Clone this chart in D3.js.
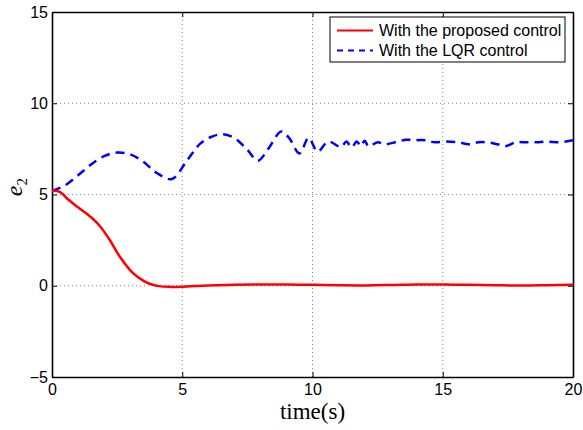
<!DOCTYPE html>
<html>
<head>
<meta charset="utf-8">
<script src="https://cdn.jsdelivr.net/npm/d3@7"></script>
<style>
  body { margin: 0; background: #fff; }
  svg { display: block; }
</style>
</head>
<body>
<svg id="chart"></svg>
<script>
// time samples and e2 values
const propTime = [0, 0.3, 0.6, 1.0, 1.5, 1.85, 2.2, 2.6, 3.1, 3.5, 3.8, 4.1, 4.5, 5.0, 6.0, 7.0, 8.0, 9.0, 10.0, 11.0, 12.0, 13.0, 14.0, 15.0, 16.0, 17.0, 18.0, 19.0, 20.0];
const propE2 = [5.2, 5.15, 4.75, 4.3, 3.75, 3.25, 2.55, 1.6, 0.7, 0.28, 0.08, -0.02, -0.06, -0.05, 0.02, 0.05, 0.07, 0.07, 0.05, 0.03, 0.02, 0.04, 0.07, 0.07, 0.05, 0.03, 0.01, 0.03, 0.06];

const lqrTime = [0, 0.5, 1.0, 1.5, 2.0, 2.5, 3.0, 3.5, 4.0, 4.6, 5.2, 5.7, 6.1, 6.55, 7.0, 7.5, 7.9, 8.3, 8.8, 9.1, 9.5, 9.85, 10.2, 10.6, 11.1, 11.3, 11.5, 11.7, 11.85, 12.0, 12.15, 12.5, 12.8, 13.27, 13.6, 14.0, 14.35, 14.7, 15.1, 15.6, 16.0, 16.35, 16.7, 17.1, 17.4, 17.8, 18.2, 18.6, 19.0, 19.5, 20.0];
const lqrE2 = [5.2, 5.5, 6.05, 6.65, 7.1, 7.3, 7.2, 6.8, 6.2, 5.85, 6.9, 7.8, 8.15, 8.3, 8.1, 7.45, 6.85, 7.5, 8.45, 8.1, 7.25, 8.1, 7.35, 7.9, 7.6, 7.9, 7.58, 7.9, 7.65, 7.95, 7.64, 7.86, 7.75, 7.9, 8.0, 7.98, 7.97, 7.86, 7.9, 7.86, 7.75, 7.86, 7.86, 7.75, 7.64, 7.86, 7.86, 7.86, 7.9, 7.86, 7.97];

const xTicks = [0, 5, 10, 15, 20];
const yTicks = [-5, 0, 5, 10, 15];
const legendLabels = ["With the proposed control", "With the LQR control"];

const width = 583;
const height = 430;
const marginLeft = 52;
const marginRight = 10;
const marginTop = 12;
const marginBottom = 53;

const svg = d3.select("#chart")
    .attr("width", width)
    .attr("height", height);

const x = d3.scaleLinear()
    .domain([0, 20])
    .range([marginLeft, width - marginRight]);

const y = d3.scaleLinear()
    .domain([-5, 15])
    .range([height - marginBottom, marginTop]);

// dotted grid
svg.append("g")
    .selectAll("line")
    .data(xTicks.slice(1, -1))
    .join("line")
    .attr("x1", d => x(d)).attr("x2", d => x(d))
    .attr("y1", y(-5)).attr("y2", y(15))
    .attr("stroke", "#888")
    .attr("stroke-width", 1)
    .attr("stroke-dasharray", "1,3");

svg.append("g")
    .selectAll("line")
    .data(yTicks.slice(1, -1))
    .join("line")
    .attr("y1", d => y(d)).attr("y2", d => y(d))
    .attr("x1", x(0)).attr("x2", x(20))
    .attr("stroke", "#888")
    .attr("stroke-width", 1)
    .attr("stroke-dasharray", "1,3");

// axes (ticks inside, mirrored like matlab)
const fontSans = "Liberation Sans, Arial, sans-serif";

svg.append("g")
    .attr("transform", `translate(0,${y(-5)})`)
    .call(d3.axisBottom(x).tickValues(xTicks).tickSizeInner(-5).tickSizeOuter(0).tickPadding(7));
svg.append("g")
    .attr("transform", `translate(${x(0)},0)`)
    .call(d3.axisLeft(y).tickValues(yTicks).tickSizeInner(-5).tickSizeOuter(0).tickPadding(4)
        .tickFormat(d => d < 0 ? "\u2212" + Math.abs(d) : d));
svg.append("g")
    .attr("transform", `translate(0,${y(15)})`)
    .call(d3.axisTop(x).tickValues(xTicks).tickSizeInner(-5).tickSizeOuter(0).tickFormat(""));
svg.append("g")
    .attr("transform", `translate(${x(20)},0)`)
    .call(d3.axisRight(y).tickValues(yTicks).tickSizeInner(-5).tickSizeOuter(0).tickFormat(""));

svg.selectAll(".domain").attr("stroke", "#000").attr("stroke-width", 1.6);
svg.selectAll(".tick line").attr("stroke", "#000");
svg.selectAll(".tick text")
    .attr("font-family", fontSans)
    .attr("font-size", 16)
    .attr("fill", "#000");

// lines
const lineGen = d3.line()
    .x(d => x(d[0]))
    .y(d => y(d[1]))
    .curve(d3.curveCatmullRom.alpha(0.5));

svg.append("path")
    .datum(d3.zip(lqrTime, lqrE2))
    .attr("fill", "none")
    .attr("stroke", "#0000ff")
    .attr("stroke-width", 2.5)
    .attr("stroke-dasharray", "9,6")
    .attr("d", lineGen);

svg.append("path")
    .datum(d3.zip(propTime, propE2))
    .attr("fill", "none")
    .attr("stroke", "#ff0000")
    .attr("stroke-width", 2.5)
    .attr("d", lineGen);

// legend
const legend = svg.append("g").attr("transform", "translate(330,17)");
legend.append("rect")
    .attr("width", 235)
    .attr("height", 45)
    .attr("fill", "#fff")
    .attr("stroke", "#000")
    .attr("stroke-width", 1);

const legendStyles = [
    { color: "#ff0000", dash: null },
    { color: "#0000ff", dash: "6,5" }
];
legendLabels.forEach((label, i) => {
    const ly = 13.5 + i * 20;
    legend.append("line")
        .attr("x1", 7).attr("x2", 43)
        .attr("y1", ly).attr("y2", ly)
        .attr("stroke", legendStyles[i].color)
        .attr("stroke-width", 2)
        .attr("stroke-dasharray", legendStyles[i].dash);
    legend.append("text")
        .attr("x", 49)
        .attr("y", ly)
        .attr("dy", "0.35em")
        .attr("font-family", fontSans)
        .attr("font-size", 16)
        .text(label);
});

// axis labels
svg.append("text")
    .attr("x", x(10))
    .attr("y", 419)
    .attr("text-anchor", "middle")
    .attr("font-family", "Liberation Serif, Times New Roman, serif")
    .attr("font-size", 23)
    .text("time(s)");

const yLabel = svg.append("text")
    .attr("transform", `translate(22,${y(5.4)}) rotate(-90)`)
    .attr("text-anchor", "middle")
    .attr("font-family", "Liberation Serif, DejaVu Serif, serif")
    .attr("font-size", 24)
    .attr("font-style", "italic");
yLabel.append("tspan").text("e");
yLabel.append("tspan").attr("font-size", 15).attr("font-style", "normal").attr("dy", 5).text("2");
</script>
</body>
</html>
